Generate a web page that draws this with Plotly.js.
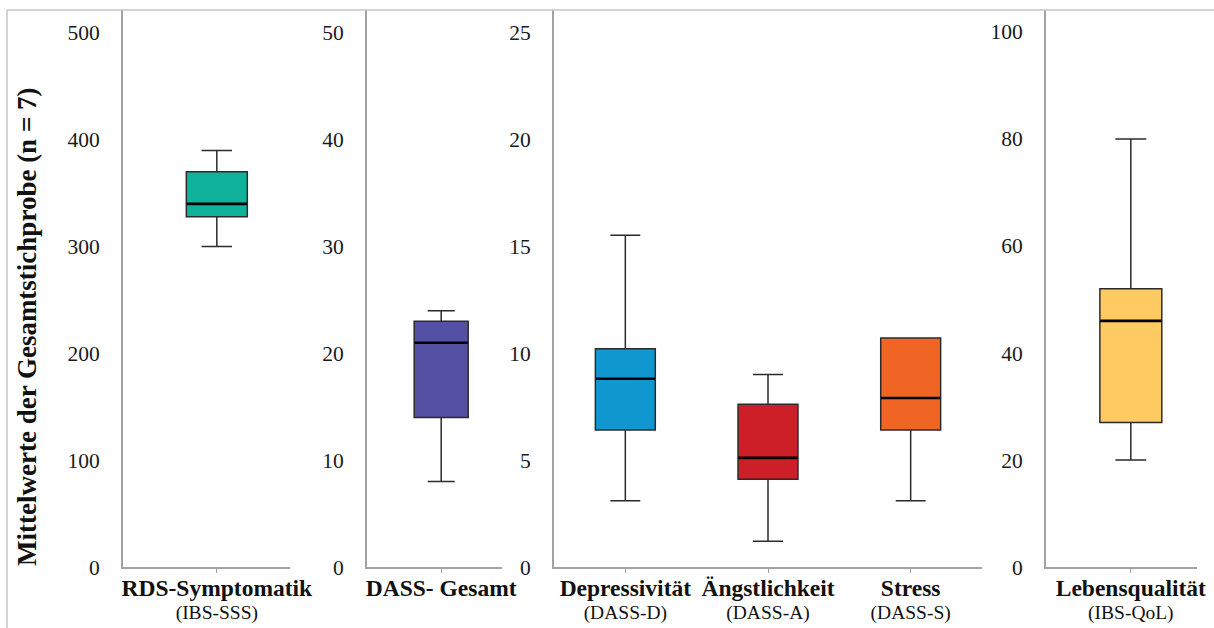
<!DOCTYPE html>
<html>
<head>
<meta charset="utf-8">
<script src="https://cdn.plot.ly/plotly-3.0.1.min.js"></script>
<style>
  html, body { margin: 0; padding: 0; background: #ffffff; }
  #chart { width: 1214px; height: 628px; }
</style>
</head>
<body>
<div id="chart"></div>
<script>
// ---------- data ----------
const yTitle = 'Mittelwerte der Gesamtstichprobe (n = 7)';

// panel 1: RDS-Symptomatik (IBS-SSS)
const p1Cats = ['RDS-Symptomatik'];
const p1Sub = ['(IBS-SSS)'];
const p1Min = [300], p1Q1 = [328], p1Med = [340], p1Q3 = [370], p1Max = [390];

// panel 2: DASS- Gesamt
const p2Cats = ['DASS- Gesamt'];
const p2Sub = [''];
const p2Min = [8], p2Q1 = [14], p2Med = [21], p2Q3 = [23], p2Max = [24];

// panel 3: DASS subscales
const p3Cats = ['Depressivität', 'Ängstlichkeit', 'Stress'];
const p3Sub = ['(DASS-D)', '(DASS-A)', '(DASS-S)'];
const p3Min = [3.1, 1.2, 3.1];
const p3Q1  = [6.4, 4.1, 6.4];
const p3Med = [8.8, 5.1, 7.9];
const p3Q3  = [10.2, 7.6, 10.7];
const p3Max = [15.5, 9.0, 10.7];

// panel 4: Lebensqualität (IBS-QoL)
const p4Cats = ['Lebensqualität'];
const p4Sub = ['(IBS-QoL)'];
const p4Min = [20], p4Q1 = [27], p4Med = [46], p4Q3 = [52], p4Max = [80];

// ---------- styling ----------
const serif = '"Liberation Serif", "Times New Roman", serif';
const axisGray = '#a3a3a3';
const outline = '#2b2b2b';

function boxTrace(cats, mn, q1, md, q3, mx, colors, xa, ya, w) {
  return cats.map((c, i) => ({
    type: 'box',
    x: [c],
    lowerfence: [mn[i]], q1: [q1[i]], median: [md[i]], q3: [q3[i]], upperfence: [mx[i]],
    xaxis: xa, yaxis: ya,
    fillcolor: colors[i],
    line: { color: outline, width: 1.5 },
    whiskerwidth: 0.5,
    width: w,
    boxpoints: false,
    hoverinfo: 'skip'
  }));
}
function medTrace(cats, md, xa, ya, size) {
  return {
    type: 'scatter', mode: 'markers',
    x: cats, y: md, xaxis: xa, yaxis: ya,
    marker: { symbol: 'line-ew', size: size, line: { color: '#000000', width: 2.6 } },
    hoverinfo: 'skip'
  };
}
function labels(cats, subs) {
  return cats.map((c, i) =>
    '<span style="font-size:23.5px"><b>' + c + '</b></span>' +
    (subs[i] ? '<br><span style="font-size:19.5px">' + subs[i] + '</span>' : ''));
}

const data = [].concat(
  boxTrace(p1Cats, p1Min, p1Q1, p1Med, p1Q3, p1Max, ['#0FB39B'], 'x', 'y', 0.325),
  boxTrace(p2Cats, p2Min, p2Q1, p2Med, p2Q3, p2Max, ['#5451A4'], 'x2', 'y2', 0.364),
  boxTrace(p3Cats, p3Min, p3Q1, p3Med, p3Q3, p3Max, ['#1097CF', '#CC1F27', '#F06523'], 'x3', 'y3', 0.42),
  boxTrace(p4Cats, p4Min, p4Q1, p4Med, p4Q3, p4Max, ['#FECB62'], 'x4', 'y4', 0.365),
  [
    medTrace(p1Cats, p1Med, 'x', 'y', 43),
    medTrace(p2Cats, p2Med, 'x2', 'y2', 38),
    medTrace(p3Cats, p3Med, 'x3', 'y3', 42.3),
    medTrace(p4Cats, p4Med, 'x4', 'y4', 43.7)
  ]
);

const W = 1214;
function xax(d0, d1, range, cats, subs, anchor) {
  return {
    domain: [d0 / W, d1 / W], anchor: anchor, type: 'category', range: range,
    showline: true, linecolor: axisGray, linewidth: 2,
    ticks: 'outside', ticklen: 4, tickcolor: axisGray, tickwidth: 1,
    tickvals: cats, ticktext: labels(cats, subs),
    tickfont: { family: serif, size: 17.5, color: '#111111' },
    ticklabelstandoff: 2,
    showgrid: false, zeroline: false, fixedrange: true
  };
}
function yax(range, dtick, anchor) {
  return {
    domain: [0, 1], anchor: anchor, range: range, dtick: dtick, tick0: 0,
    showline: true, linecolor: axisGray, linewidth: 2,
    ticks: '', ticklabelstandoff: 17,
    tickfont: { family: serif, size: 21.5, color: '#1a1a1a' },
    showgrid: false, zeroline: false, fixedrange: true
  };
}

const layout = {
  width: 1214, height: 628,
  margin: { l: 0, r: 0, t: 10, b: 61, pad: 0 },
  paper_bgcolor: '#ffffff', plot_bgcolor: 'rgba(0,0,0,0)',
  showlegend: false,
  xaxis:  xax(123, 290, [-0.5, 0.39], p1Cats, p1Sub, 'y'),
  xaxis2: xax(367, 502, [-0.5, 0.41], p2Cats, p2Sub, 'y2'),
  xaxis3: xax(554, 982, [-0.5, 2.5], p3Cats, p3Sub, 'y3'),
  xaxis4: xax(1046, 1197, [-0.5, 0.39], p4Cats, p4Sub, 'y4'),
  yaxis:  yax([0, 521.5], 100, 'x'),
  yaxis2: yax([0, 52.15], 10, 'x2'),
  yaxis3: yax([0, 26.03], 5, 'x3'),
  yaxis4: yax([0, 104.1], 20, 'x4'),
  shapes: [
    { type: 'line', xref: 'paper', yref: 'paper', x0: 7 / W, x1: 1.01, y0: 1.0, y1: 1.0,
      line: { color: '#c4c4c4', width: 1.5 } },
    { type: 'line', xref: 'paper', yref: 'paper', x0: 7 / W, x1: 7 / W, y0: 1.0, y1: -0.12,
      line: { color: '#c4c4c4', width: 1.5 } }
  ],
  annotations: [
    { text: '<b>' + yTitle + '</b>', xref: 'paper', yref: 'paper',
      x: 27 / W, y: (567 - 327) / 557, xanchor: 'center', yanchor: 'middle',
      textangle: -90, showarrow: false,
      font: { family: serif, size: 27, color: '#111111' } }
  ]
};

Plotly.newPlot('chart', data, layout, { displayModeBar: false, staticPlot: true });
</script>
</body>
</html>
